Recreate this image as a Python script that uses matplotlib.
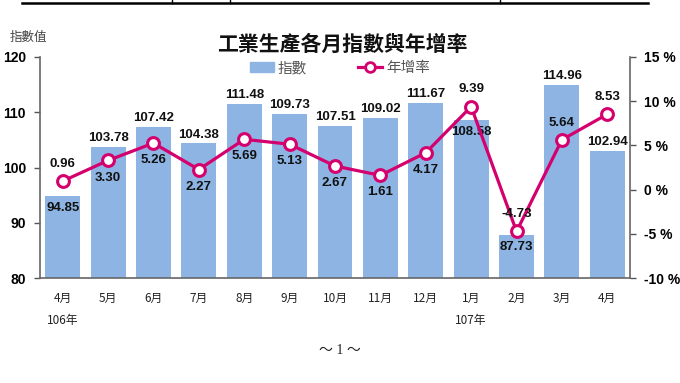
import matplotlib
matplotlib.use("Agg")
import matplotlib.pyplot as plt
from matplotlib.lines import Line2D
from matplotlib.patches import Patch

months = ["4月\n106年", "5月", "6月", "7月", "8月", "9月", "10月", "11月",
          "12月", "1月\n107年", "2月", "3月", "4月"]
index_vals = [94.85, 103.78, 107.42, 104.38, 111.48, 109.73, 107.51, 109.02,
              111.67, 108.58, 87.73, 114.96, 102.94]
growth_vals = [0.96, 3.30, 5.26, 2.27, 5.69, 5.13, 2.67, 1.61, 4.17, 9.39,
               -4.73, 5.64, 8.53]
# where the labels sit: bar labels inside the bar (True) / growth labels above the point (True)
bar_inside = [True, False, False, False, False, False, False, False, False,
              True, True, False, False]
growth_above = [True, False, False, False, False, False, False, False, False,
                True, True, True, True]

BAR = "#8db4e2"
LINE = "#d4006e"
NUM_FONT = ["Liberation Sans", "DejaVu Sans"]
CJK = ["Noto Sans CJK TC", "DejaVu Sans"]

plt.rcParams["font.family"] = ["Noto Sans CJK TC", "DejaVu Sans"]

fig = plt.figure(figsize=(6.8, 3.83), dpi=100)
ax = fig.add_axes([40 / 680, 1 - 278 / 383, 590 / 680, 221 / 383])
ax2 = ax.twinx()

x = list(range(len(months)))
ax.bar(x, index_vals, width=0.77, color=BAR, zorder=2)
ax.set_xlim(-0.5, len(months) - 0.5)
ax.set_ylim(80, 120)
ax.set_yticks([80, 90, 100, 110, 120])
ax.set_xticks(x)
ax.set_xticklabels(months, fontsize=8.5, linespacing=1.9, color="#222222")
ax.tick_params(axis="x", length=0, pad=10)
ax.tick_params(axis="y", length=4, width=1, color="#555555", pad=6)
for lab in ax.get_yticklabels():
    lab.set_fontfamily(NUM_FONT)
    lab.set_fontweight("bold")
    lab.set_fontsize(10)

for s in ["top", "right"]:
    ax.spines[s].set_visible(False)
for s in ["left", "bottom"]:
    ax.spines[s].set_color("#666666")
    ax.spines[s].set_linewidth(1.2)

ax2.plot(x, growth_vals, color=LINE, lw=2.3, marker="o", ms=8.5,
         mfc="white", mec=LINE, mew=2.2, zorder=5)
ax2.set_ylim(-10, 15)
ax2.set_yticks([-10, -5, 0, 5, 10, 15])
ax2.set_yticklabels(["-10 %", "-5 %", "0 %", "5 %", "10 %", "15 %"])
ax2.tick_params(axis="y", length=4, width=1, color="#555555", pad=6)
for lab in ax2.get_yticklabels():
    lab.set_fontfamily(NUM_FONT)
    lab.set_fontweight("bold")
    lab.set_fontsize(10)
for s in ["top", "left", "bottom"]:
    ax2.spines[s].set_visible(False)
ax2.spines["right"].set_color("#666666")
ax2.spines["right"].set_linewidth(1.2)

for i, v in enumerate(index_vals):
    if bar_inside[i]:
        ax.annotate(f"{v:.2f}", (i, v), xytext=(0, -4), textcoords="offset points",
                    ha="center", va="top", fontsize=9.5, fontweight="bold",
                    family=NUM_FONT, color="#111111", zorder=6)
    else:
        ax.annotate(f"{v:.2f}", (i, v), xytext=(0, 2), textcoords="offset points",
                    ha="center", va="bottom", fontsize=9.5, fontweight="bold",
                    family=NUM_FONT, color="#111111", zorder=6)

for i, v in enumerate(growth_vals):
    if growth_above[i]:
        ax2.annotate(f"{v:.2f}", (i, v), xytext=(0, 8), textcoords="offset points",
                     ha="center", va="bottom", fontsize=9.5, fontweight="bold",
                     family=NUM_FONT, color="#111111", zorder=6)
    else:
        ax2.annotate(f"{v:.2f}", (i, v), xytext=(0, -8), textcoords="offset points",
                     ha="center", va="top", fontsize=9.5, fontweight="bold",
                     family=NUM_FONT, color="#111111", zorder=6)

handles = [Patch(color=BAR),
           Line2D([0], [0], color=LINE, lw=2.3, marker="o", ms=7, mfc="white",
                  mec=LINE, mew=2)]
leg = fig.legend(handles, ["指數", "年增率"], loc="center", ncol=2,
                 bbox_to_anchor=(340 / 680, 1 - 68 / 383), frameon=False,
                 fontsize=10.5, handlelength=1.6, handletextpad=0.3,
                 columnspacing=3.5, labelcolor="#555555")

fig.text(342 / 680, 1 - 44 / 383, "工業生產各月指數與年增率", ha="center",
         va="center", fontsize=15, fontweight="bold", family=CJK, color="#111111")
fig.text(10 / 680, 1 - 37 / 383, "指數值", ha="left", va="center", fontsize=9,
         family=CJK, color="#444444")
fig.text(340 / 680, 1 - 350 / 383, "～ 1 ～", ha="center", va="center",
         fontsize=10, family=["Liberation Serif", "Noto Sans CJK TC"], color="#222222")

# leftover table border at the very top of the page
fig.add_artist(Line2D([22 / 680, 648 / 680], [1 - 3 / 383, 1 - 3 / 383],
                      color="black", lw=1.8, transform=fig.transFigure))
for xp in [172, 230, 500]:
    fig.add_artist(Line2D([xp / 680, xp / 680], [1, 1 - 3 / 383],
                          color="black", lw=1, transform=fig.transFigure))

fig.savefig("out.png", dpi=100)
